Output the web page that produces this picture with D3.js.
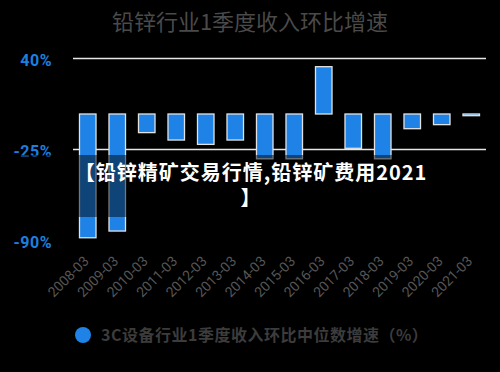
<!DOCTYPE html>
<html>
<head>
    <meta charset="utf-8">
    <script src="https://cdnjs.cloudflare.com/ajax/libs/d3/7.8.5/d3.min.js"></script>
    <style>
        body {
            margin: 0;
            background: #000;
            font-family: "Noto Sans CJK SC", "Noto Sans", sans-serif;
        }
    </style>
</head>
<body>
    <svg id="chart" width="500" height="372"></svg>
    <script>
        // data
        const categories = ["2008-03", "2009-03", "2010-03", "2011-03", "2012-03", "2013-03", "2014-03",
            "2015-03", "2016-03", "2017-03", "2018-03", "2019-03", "2020-03", "2021-03"];
        const values = [-88.4, -83.6, -13.3, -18.6, -21.7, -18.6, -32, -32, 33.8, -24.5, -32, -10.5, -7.6, -1.2];
        const yTicks = [40, -25, -90];
        const gridTicks = [40, -25];
        const seriesName = "3C设备行业1季度收入环比中位数增速（%）";
        const title = "铅锌行业1季度收入环比增速";
        const overlayLines = ["【铅锌精矿交易行情,铅锌矿费用2021", "】"];

        const svg = d3.select("#chart");
        const W = 500;

        const x = d3.scaleBand()
            .domain(categories)
            .range([73, 486])
            .paddingInner(0.44)
            .paddingOuter(0.22);

        const y = d3.scaleLinear()
            .domain([-90, 40])
            .range([240, 58]);

        // title
        svg.append("text")
            .attr("x", W / 2)
            .attr("y", 30)
            .attr("text-anchor", "middle")
            .attr("font-size", 22)
            .attr("fill", "#4a4a4a")
            .text(title);

        // grid lines
        svg.selectAll(".grid")
            .data(gridTicks)
            .join("line")
            .attr("class", "grid")
            .attr("x1", 73)
            .attr("x2", 486)
            .attr("y1", d => Math.round(y(d)) + 0.5)
            .attr("y2", d => Math.round(y(d)) + 0.5)
            .attr("stroke", "#e6e6e6")
            .attr("stroke-width", 1.3);

        // y labels
        svg.selectAll(".ylab")
            .data(yTicks)
            .join("text")
            .attr("class", "ylab")
            .attr("x", 52)
            .attr("y", d => y(d) + 8)
            .attr("text-anchor", "end")
            .attr("font-family", "Roboto, 'Noto Sans', sans-serif")
            .attr("font-weight", "bold")
            .attr("font-size", 16)
            .attr("letter-spacing", 0.5)
            .attr("fill", "#1c7fe0")
            .text(d => d + "%");

        // bars
        svg.selectAll(".bar")
            .data(values)
            .join("rect")
            .attr("class", "bar")
            .attr("x", (d, i) => x(categories[i]))
            .attr("width", x.bandwidth())
            .attr("y", d => y(Math.max(0, d)))
            .attr("height", d => Math.abs(y(d) - y(0)))
            .attr("fill", "#1e82e6")
            .attr("stroke", "#e2e2e2")
            .attr("stroke-width", 1.3);

        // x labels, rotated
        svg.selectAll(".xlab")
            .data(categories)
            .join("text")
            .attr("class", "xlab")
            .attr("transform", d => `translate(${x(d) + x.bandwidth() / 2 + 2},262) rotate(-45)`)
            .attr("text-anchor", "end")
            .attr("font-family", "Roboto, 'Noto Sans', sans-serif")
            .attr("font-size", 14)
            .attr("fill", "#555")
            .text(d => d);

        // legend
        svg.append("circle")
            .attr("cx", 83)
            .attr("cy", 335)
            .attr("r", 8)
            .attr("fill", "#1e82e6");
        svg.append("text")
            .attr("x", 101)
            .attr("y", 341)
            .attr("font-size", 16)
            .attr("font-weight", "bold")
            .attr("letter-spacing", 0.5)
            .attr("fill", "#3c3c3c")
            .text(seriesName);

        // dark band with the overlay caption
        svg.append("rect")
            .attr("x", 0)
            .attr("y", 155)
            .attr("width", W)
            .attr("height", 62)
            .attr("fill", "#000")
            .attr("opacity", 0.48);

        svg.selectAll(".cap")
            .data(overlayLines)
            .join("text")
            .attr("class", "cap")
            .attr("x", 251)
            .attr("y", (d, i) => 180 + i * 25)
            .attr("text-anchor", "middle")
            .attr("font-size", 20)
            .attr("font-weight", "bold")
            .attr("letter-spacing", 1.0)
            .attr("fill", "#fff")
            .text(d => d);
    </script>
</body>
</html>
